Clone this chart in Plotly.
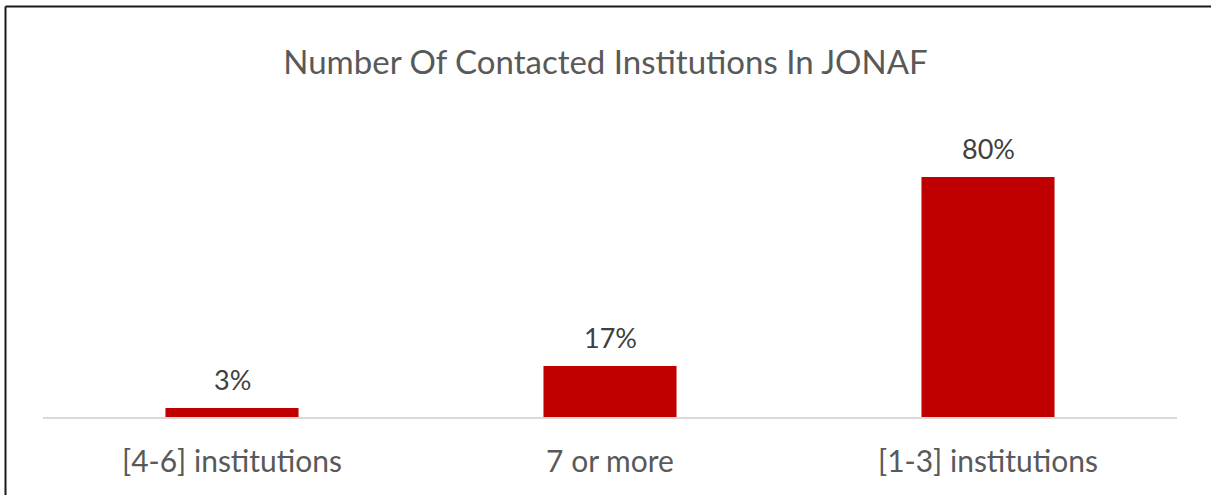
import plotly.graph_objects as go

categories = ["[4-6] institutions", "7 or more", "[1-3] institutions"]
shares = [3, 17, 80]
value_labels = ["3%", "17%", "80%"]

W, H = 1211, 495
ML, MR, MT, MB = 43, 34, 147, 78
PW, PH = W - ML - MR, H - MT - MB
FONT = "Lato"

fig = go.Figure(
    go.Bar(
        x=categories,
        y=shares,
        marker=dict(color="#C00000", line=dict(width=0)),
        cliponaxis=False,
    )
)

# Value labels floating above each bar
for cat, val, lab in zip(categories, shares, value_labels):
    fig.add_annotation(x=cat, y=val, text=lab, showarrow=False,
                       yanchor="middle", yshift=29,
                       font=dict(family=FONT, size=27, color="#404040"))

def px_to_paper_x(px):
    return (px - ML) / PW

def px_to_paper_y(py):
    return (H - MB - py) / PH

# Frame: dark lines on the left and top edges
frame = dict(color="#1a1a1a", width=2)
fig.add_shape(type="line", xref="paper", yref="paper",
              x0=px_to_paper_x(5.5), x1=px_to_paper_x(W + 5),
              y0=px_to_paper_y(6.5), y1=px_to_paper_y(6.5), line=frame)
fig.add_shape(type="line", xref="paper", yref="paper",
              x0=px_to_paper_x(5.5), x1=px_to_paper_x(5.5),
              y0=px_to_paper_y(6.5), y1=px_to_paper_y(H + 5), line=frame)

fig.update_layout(
    width=W, height=H,
    margin=dict(l=ML, r=MR, t=MT, b=MB),
    paper_bgcolor="white", plot_bgcolor="white",
    bargap=0.648,
    showlegend=False,
    title=dict(text="Number Of Contacted Institutions In JONAF",
               x=0.5, xanchor="center", y=1 - 62 / H, yanchor="middle",
               font=dict(family=FONT, size=33, color="#595959")),
    xaxis=dict(showline=True, linecolor="#d9d9d9", linewidth=2,
               ticks="", showgrid=False, ticklabelstandoff=17,
               tickfont=dict(family=FONT, size=30, color="#595959")),
    yaxis=dict(range=[0, 90], visible=False, showgrid=False, zeroline=False),
)

fig.write_html("out.html")
